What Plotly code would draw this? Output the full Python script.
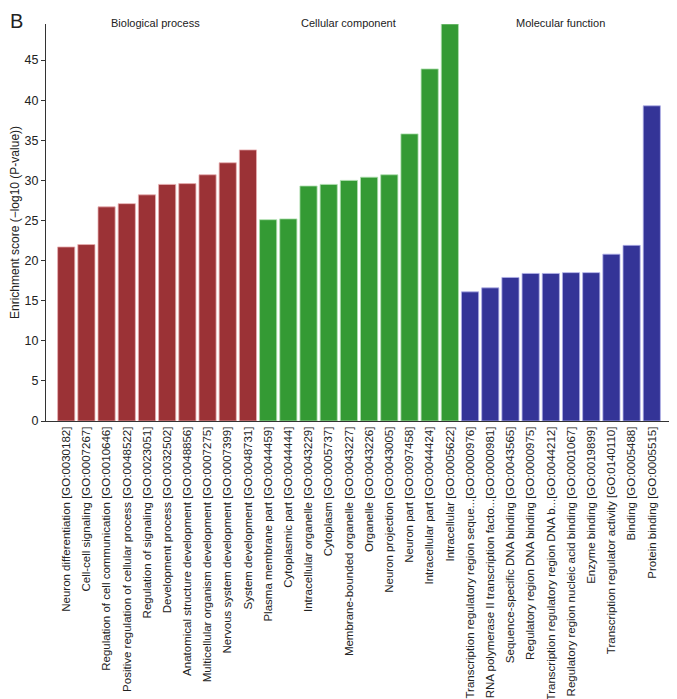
import plotly.graph_objects as go

bp_labels = [
    "Neuron differentiation [GO:0030182]",
    "Cell-cell signaling [GO:0007267]",
    "Regulation of cell communication [GO:0010646]",
    "Positive regulation of cellular process [GO:0048522]",
    "Regulation of signaling [GO:0023051]",
    "Development process [GO:0032502]",
    "Anatomical structure development [GO:0048856]",
    "Multicellular organism development [GO:0007275]",
    "Nervous system development [GO:0007399]",
    "System development [GO:0048731]",
]
bp_values = [21.7, 22.0, 26.7, 27.1, 28.2, 29.5, 29.6, 30.7, 32.2, 33.8]

cc_labels = [
    "Plasma membrane part [GO:0044459]",
    "Cytoplasmic part [GO:0044444]",
    "Intracellular organelle [GO:0043229]",
    "Cytoplasm [GO:0005737]",
    "Membrane-bounded organelle [GO:0043227]",
    "Organelle [GO:0043226]",
    "Neuron projection [GO:0043005]",
    "Neuron part [GO:0097458]",
    "Intracellular part [GO:0044424]",
    "Intracellular [GO:0005622]",
]
cc_values = [25.1, 25.2, 29.3, 29.5, 30.0, 30.4, 30.7, 35.8, 43.9, 49.5]

mf_labels = [
    "Transcription regulatory region seque...[GO:0000976]",
    "RNA polymerase II transcription facto...[GO:0000981]",
    "Sequence-specific DNA binding [GO:0043565]",
    "Regulatory region DNA binding [GO:0000975]",
    "Transcription regulatory region DNA b...[GO:0044212]",
    "Regulatory region nucleic acid binding [GO:0001067]",
    "Enzyme binding [GO:0019899]",
    "Transcription regulator activity [GO:0140110]",
    "Binding [GO:0005488]",
    "Protein binding [GO:0005515]",
]
mf_values = [16.1, 16.6, 17.9, 18.4, 18.4, 18.5, 18.5, 20.8, 21.9, 39.3]

group_names = ["Biological process", "Cellular component", "Molecular function"]
group_colors = ["#9b3236", "#349a34", "#343497"]
group_edges = ["#e8b0b2", "#b0e0b0", "#b0b0e8"]
group_title_shift = [-2, -11, 0]

y_ticks = [0, 5, 10, 15, 20, 25, 30, 35, 40, 45]

labels = bp_labels + cc_labels + mf_labels
values = bp_values + cc_values + mf_values
groups = [bp_labels, cc_labels, mf_labels]
colors = []
edges = []
for g, c, e in zip(groups, group_colors, group_edges):
    colors += [c] * len(g)
    edges += [e] * len(g)

x_idx = list(range(len(labels)))

fig = go.Figure()
fig.add_trace(go.Bar(
    x=x_idx, y=values,
    marker=dict(color=colors, line=dict(color=edges, width=0.8)),
    width=0.85,
    showlegend=False,
))

font_family = "Liberation Sans, Arial, sans-serif"

# group titles centred over each group
start = 0
for name, g, sh in zip(group_names, groups, group_title_shift):
    center = start + (len(g) - 1) / 2
    fig.add_annotation(x=center, y=1.0, xref="x", yref="paper", yanchor="bottom",
                       text=name, showarrow=False, yshift=-7, xshift=sh,
                       font=dict(size=11, color="#222", family=font_family))
    start += len(g)

fig.add_annotation(x=0, y=1, xref="paper", yref="paper", xanchor="left", yanchor="top",
                   text="B", showarrow=False, xshift=-38, yshift=16,
                   font=dict(size=20, color="#222", family=font_family))

fig.update_layout(
    width=669, height=691,
    margin=dict(l=38, r=5, t=16, b=278),
    plot_bgcolor="white", paper_bgcolor="white",
    font=dict(family=font_family, color="#222", size=11),
    xaxis=dict(
        range=[-1, 30],
        tickmode="array", tickvals=x_idx, ticktext=labels,
        tickangle=-90, tickfont=dict(size=11.5, family=font_family, color="#222"),
        showline=True, linecolor="#333", linewidth=1,
        ticks="", showgrid=False, zeroline=False,
        automargin=False,
    ),
    yaxis=dict(
        range=[0, 49.5],
        tickvals=y_ticks,
        tickfont=dict(size=12.5, family=font_family, color="#222"),
        showline=True, linecolor="#333", linewidth=1,
        ticks="outside", ticklen=4, tickcolor="#333",
        showgrid=False, zeroline=False,
        automargin=False,
        title=dict(text="Enrichment score (\u2212log10 (P-value))",
                   font=dict(size=12, family=font_family, color="#222"), standoff=10),
    ),
)

fig.write_html("out.html")
